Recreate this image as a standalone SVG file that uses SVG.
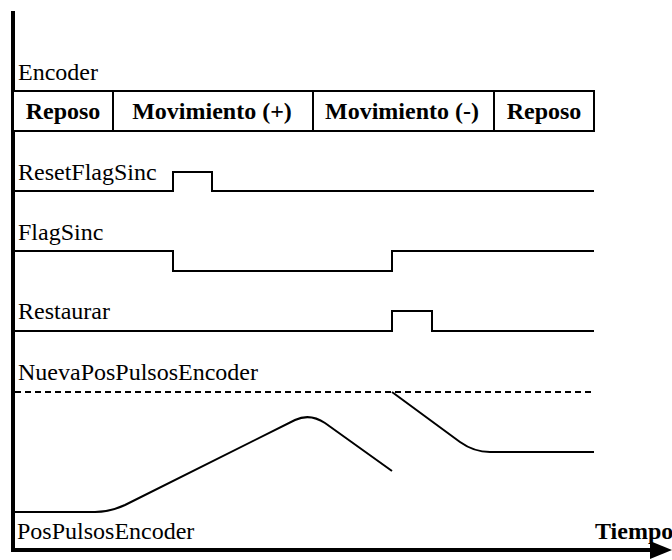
<svg xmlns="http://www.w3.org/2000/svg" width="672" height="560" viewBox="0 0 672 560">
  <style>
    text { font-family: 'Liberation Serif', 'Times New Roman', serif; }
    .lbl { font-size: 24px; fill: #000; }
    .hdr { font-size: 24px; font-weight: bold; fill: #000; text-anchor: middle; }
    .sig { fill: none; stroke: #000; stroke-width: 2; stroke-linejoin: miter; }
    .cell { fill: #fff; stroke: #000; stroke-width: 2; }
    .axis { fill: none; stroke: #000; stroke-width: 4; }
  </style>
  <rect width="672" height="560" fill="#fff"/>

  <!-- Axes -->
  <g id="axes">
    <line class="axis" x1="13" y1="11" x2="13" y2="552"/>
    <line class="axis" x1="11" y1="550" x2="656" y2="550"/>
    <polygon points="650,541 672,550 650,559" fill="#000"/>
    <text class="lbl" x="595" y="539" font-weight="bold">Tiempo</text>
  </g>

  <!-- Encoder state table -->
  <g id="encoder">
    <text class="lbl" x="18" y="80">Encoder</text>
    <rect class="cell" x="13" y="91" width="100" height="40"/>
    <rect class="cell" x="113" y="91" width="200" height="40"/>
    <rect class="cell" x="313" y="91" width="181" height="40"/>
    <rect class="cell" x="494" y="91" width="100" height="40"/>
    <text class="hdr" x="63" y="119">Reposo</text>
    <text class="hdr" x="212" y="119">Movimiento (+)</text>
    <text class="hdr" x="402" y="119">Movimiento (-)</text>
    <text class="hdr" x="544" y="119">Reposo</text>
  </g>

  <!-- ResetFlagSinc -->
  <g id="resetflagsinc">
    <text class="lbl" x="18" y="180">ResetFlagSinc</text>
    <polyline class="sig" points="13,191 173,191 173,172 212,172 212,191 594,191"/>
  </g>

  <!-- FlagSinc -->
  <g id="flagsinc">
    <text class="lbl" x="18" y="240">FlagSinc</text>
    <polyline class="sig" points="13,251 173,251 173,271 392,271 392,251 594,251"/>
  </g>

  <!-- Restaurar -->
  <g id="restaurar">
    <text class="lbl" x="18" y="319">Restaurar</text>
    <polyline class="sig" points="13,331 392,331 392,311 432,311 432,331 594,331"/>
  </g>

  <!-- NuevaPosPulsosEncoder -->
  <g id="nuevapos">
    <text class="lbl" x="18" y="380">NuevaPosPulsosEncoder</text>
    <line class="sig" x1="15" y1="392" x2="594" y2="392" stroke-dasharray="6,4"/>
  </g>

  <!-- PosPulsosEncoder -->
  <g id="pospulsos">
    <text class="lbl" x="17" y="539">PosPulsosEncoder</text>
    <path class="sig" d="M13,512 L95,512 Q110,512 125,505 L295,420 Q310,413 325,423 L392,471"/>
    <path class="sig" d="M392,392 L460,442 Q474,452 490,452 L594,452"/>
  </g>
</svg>
